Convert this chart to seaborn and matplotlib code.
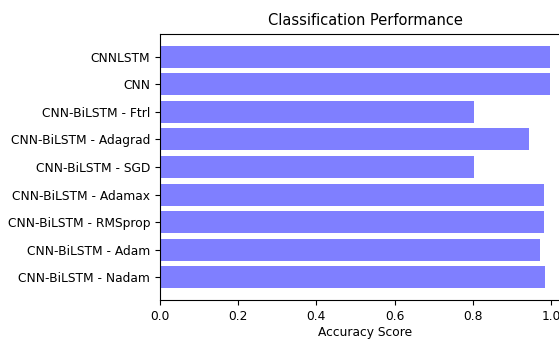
import matplotlib
matplotlib.use("Agg")
import matplotlib.pyplot as plt
import pandas as pd
import seaborn as sns

models = [
    "CNNLSTM",
    "CNN",
    "CNN-BiLSTM - Ftrl",
    "CNN-BiLSTM - Adagrad",
    "CNN-BiLSTM - SGD",
    "CNN-BiLSTM - Adamax",
    "CNN-BiLSTM - RMSprop",
    "CNN-BiLSTM - Adam",
    "CNN-BiLSTM - Nadam",
]
accuracy = [0.997, 0.997, 0.803, 0.943, 0.803, 0.981, 0.981, 0.971, 0.983]

df = pd.DataFrame({"model": models, "accuracy": accuracy})

fig = plt.figure(figsize=(5.59, 3.39), dpi=100)
# axes run past the right edge, as in the cropped original
ax = fig.add_axes([0.286, 0.1136, 0.735, 0.7875])

sns.barplot(
    data=df,
    x="accuracy",
    y="model",
    order=models,
    orient="h",
    color="blue",
    alpha=0.5,
    saturation=1,
    width=0.8,
    ax=ax,
)

ax.set_xlim(0, 1.05)
ax.set_ylim(len(models) - 1 + 0.84, -0.84)
ax.set_xticks([0.0, 0.2, 0.4, 0.6, 0.8, 1.0])
ax.tick_params(labelsize=8.8)
ax.set_xlabel("Accuracy Score", fontsize=8.8, labelpad=2)
ax.set_ylabel("")
ax.set_title("Classification Performance", fontsize=10.5)

fig.savefig("out.png", dpi=100)
